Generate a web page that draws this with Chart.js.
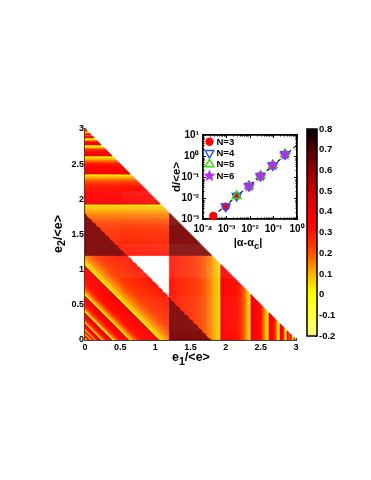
<!DOCTYPE html>
<html><head><meta charset="utf-8">
<script src="https://cdn.jsdelivr.net/npm/chart.js@4"></script>
<style>
html,body{margin:0;padding:0;background:#fff;overflow:hidden}
#wrap{position:relative;width:371px;height:480px;font-family:"Liberation Sans",Arial,sans-serif;font-weight:bold;color:#000}
canvas{position:absolute;left:0;top:0}
.t{position:absolute;white-space:nowrap;line-height:1}
.t sub{font-size:.85em;vertical-align:-0.35em;line-height:0}
</style></head><body>
<div id="wrap">
<canvas id="main" width="371" height="480"></canvas>
<canvas id="inset" width="371" height="480"></canvas>
<canvas id="bar" width="371" height="480"></canvas>
<div class="t" style="left:172px;top:351px;font-size:12.5px">e<sub>1</sub>/&lt;e&gt;</div>
<div class="t" style="left:58px;top:234px;font-size:12.5px;transform:translate(-50%,-50%) rotate(-90deg)">e<sub>2</sub>/&lt;e&gt;</div>
<div class="t" style="left:177px;top:177px;font-size:11.5px;transform:translate(-50%,-50%) rotate(-90deg)">d/&lt;e&gt;</div>
<div class="t" style="left:248px;top:242px;font-size:11px;transform:translate(-50%,-50%)">|α-α<sub>c</sub>|</div>
</div>
<script>
// ---- heat map tick labels
const mainXTicks=[0,0.5,1,1.5,2,2.5,3];
const mainYTicks=[0,0.5,1,1.5,2,2.5,3];
// ---- heat map bands, read along e (1.2..3): band start and strip values inside each band
const bandStarts=[1.2,1.93,2.36,2.61,2.77,2.87,2.92,2.955,2.975,2.99];
const band0=[.30,.29,.285,.28,.275,.27,.265,.26,.255,.25,.24,.23,.22,.20,.18,.16,.14,.11,.08,.04];
const band1=[.42,.38,.35,.34,.33,.33,.32,.31,.30,.28,.25,.21,.16,.10,.03];
const band2=[.42,.37,.34,.33,.31,.29,.25,.18,.10,.03];
const band3=[.42,.37,.34,.31,.27,.19,.10,.02];
const band4=[.42,.35,.29,.16,.03];
const band5=[.40,.30,.16,.03];
const band6=[.38,.24,.04];
const band7=[.35,.12,.02];
const band8=[.30,.05];
const band9=[.15,.0];
const bands=[band0,band1,band2,band3,band4,band5,band6,band7,band8,band9];
const darkValue=0.63, splitLow=1.2, splitHigh=1.8, heatMax=3;
// ---- colour scale
const cmapValues=[-0.2,-0.1,0,0.05,0.1,0.2,0.3,0.35,0.4,0.5,0.6,0.7,0.8];
const cmapColors=[[255,255,128],[255,255,64],[255,255,0],[255,216,0],[255,176,0],[255,80,0],[255,16,0],[255,0,0],[240,0,0],[200,0,0],[144,0,0],[80,0,0],[0,0,0]];
const barTicks=[-0.2,-0.1,0,0.1,0.2,0.3,0.4,0.5,0.6,0.7,0.8];
// ---- inset series
const alphaAll=[2.75e-4,9.3e-4,2.7e-3,9.1e-3,2.8e-2,9.3e-2,0.31];
const dAll=[1.38e-3,3.9e-3,1.26e-2,3.7e-2,0.112,0.363,1.2];
const n3Start=0,n4Start=1,n5Start=2,n6Start=3;
const fitX=[2.75e-4,1], fitY=[1.38e-3,3.3];
const insetXTicks=[1e-4,1e-3,1e-2,1e-1,1];
const insetYTicks=[1e-3,1e-2,1e-1,1,10];
const insetXLabels=['10⁻⁴','10⁻³','10⁻²','10⁻¹','10⁰'];
const insetYLabels=['10⁻³','10⁻²','10⁻¹','10⁰','10¹'];
const minorMult=[2,3,4,5,6,7,8,9];

function cmap(v){
  let i=0; while(i<cmapValues.length-2&&v>cmapValues[i+1])i++;
  const f=Math.max(0,Math.min(1,(v-cmapValues[i])/(cmapValues[i+1]-cmapValues[i])));
  const a=cmapColors[i],b=cmapColors[i+1];
  return 'rgb('+a.map((c,k)=>Math.round(c+(b[k]-c)*f)).join(',')+')';
}
function profile(t){
  let i=bandStarts.length-1; while(i>0&&t<bandStarts[i])i--;
  const lo=bandStarts[i],hi=i+1<bandStarts.length?bandStarts[i+1]:heatMax;
  const b=bands[i];
  return b[Math.min(b.length-1,Math.max(0,Math.floor((t-lo)/(hi-lo)*b.length)))];
}
function field(x,y){
  const s=x+y;
  if(s>heatMax)return null;
  if(x<splitLow&&y<splitLow) return s>=splitHigh?null:profile(heatMax-s);
  if(x>=splitLow&&y>=splitLow) return darkValue;
  if(s<splitHigh) return darkValue;
  return profile(Math.max(x,y));
}
const cells=[];
const cellStep=3/210;
for(let i=0;i<210;i++)for(let j=0;j<210;j++){
  const x=(i+.5)*cellStep,y=(j+.5)*cellStep,v=field(x,y);
  if(v!==null)cells.push({x,y,v});
}
Chart.defaults.animation=false;
Chart.defaults.events=[];
Chart.defaults.font.family='"Liberation Sans",Arial,sans-serif';
Chart.defaults.font.weight='bold';
Chart.defaults.color='#000';
Chart.defaults.plugins.legend.display=false;
Chart.defaults.plugins.tooltip.enabled=false;

const fixed=(vals)=>s=>{s.ticks=vals.map(v=>({value:v}));};
const noPad=(size,isX)=>s=>{ if(isX)s.height=size; else s.width=size; s.paddingLeft=s.paddingRight=s.paddingTop=s.paddingBottom=0;};

new Chart(document.getElementById('main'),{
  type:'scatter',
  data:{datasets:[{data:cells,showLine:false,pointStyle:'rect',pointRadius:0.95,pointBorderWidth:0,
    pointBackgroundColor:c=>cmap(c.raw.v)}]},
  options:{responsive:false,layout:{padding:{left:55,right:75,top:129,bottom:120}},
    scales:{
      x:{type:'linear',min:0,max:3,afterBuildTicks:fixed(mainXTicks),afterFit:noPad(20,true),
        border:{color:'#444',width:2},grid:{drawOnChartArea:false,tickLength:-2,color:'#444'},
        ticks:{font:{size:9},padding:4,maxRotation:0,autoSkip:false,callback:v=>String(v)}},
      y:{type:'linear',min:0,max:3,afterBuildTicks:fixed(mainYTicks),afterFit:noPad(30,false),
        border:{color:'#444',width:2},grid:{drawOnChartArea:false,tickLength:-2,color:'#444'},
        ticks:{font:{size:9},padding:3,autoSkip:false,callback:v=>String(v)}}
    }}
});

const starCanvas=document.createElement('canvas');
starCanvas.width=starCanvas.height=13;
(function(){const c=starCanvas.getContext('2d');c.fillStyle='#b030ea';c.beginPath();
  for(let i=0;i<10;i++){const r=i%2?2.9:6.4,a=-Math.PI/2+i*Math.PI/5;c.lineTo(6.5+r*Math.cos(a),6.7+r*Math.sin(a));}
  c.closePath();c.fill();})();
function series(start){return alphaAll.map((a,i)=>({x:a,y:dAll[i]})).slice(start);}
const logMinor=(vals)=>{const out=[];vals.slice(0,-1).forEach(v=>minorMult.forEach(m=>out.push(v*m)));return out;};
const insetLegend={id:'insetLegend',afterDraw(chart){
  const ctx=chart.ctx;
  const rows=[141.7,153,164.3,175.7];
  chart.data.datasets.filter(d=>d.label).forEach((d,i)=>{
    ctx.save();
    ctx.strokeStyle=d.pointBorderColor;ctx.fillStyle=d.pointBackgroundColor;ctx.lineWidth=d.pointBorderWidth;
    Chart.helpers.drawPoint(ctx,{pointStyle:d.pointStyle,rotation:d.pointRotation||0,radius:d.pointRadius,borderWidth:d.pointBorderWidth},209.5,rows[i]);
    ctx.restore();
    ctx.save();ctx.fillStyle='#000';ctx.font='bold 9.5px "Liberation Sans"';ctx.textBaseline='middle';
    ctx.fillText(d.label,216.5,rows[i]+.5);ctx.restore();
  });
}};
const frameScale=(pos,vals,size,isX,weight)=>({type:'logarithmic',position:pos,weight,min:isX?1e-4:1e-3,max:isX?1:10,
  afterBuildTicks:fixed(vals),afterFit:noPad(0,isX),
  border:{color:'#000',width:1.5},grid:{drawOnChartArea:false,tickLength:-size,color:'#000',lineWidth:1},
  ticks:{display:false}});
new Chart(document.getElementById('inset'),{
  type:'scatter',
  plugins:[insetLegend],
  data:{datasets:[
    {data:series(n3Start),label:'N=3',order:3,showLine:false,pointStyle:'circle',pointRadius:4.2,pointBackgroundColor:'#ff0000',pointBorderColor:'#ff0000',pointBorderWidth:0},
    {data:series(n4Start),label:'N=4',order:2,showLine:false,pointStyle:'triangle',pointRotation:180,pointRadius:5,pointBackgroundColor:'rgba(0,0,0,0)',pointBorderColor:'#2a50ff',pointBorderWidth:1.5},
    {data:series(n5Start),label:'N=5',order:1,showLine:false,pointStyle:'triangle',pointRadius:5,pointBackgroundColor:'rgba(0,0,0,0)',pointBorderColor:'#33e000',pointBorderWidth:1.5},
    {data:series(n6Start),label:'N=6',order:0,showLine:false,pointStyle:starCanvas,pointRadius:6,pointBackgroundColor:'#b030ea',pointBorderColor:'#b030ea',pointBorderWidth:0},
    {data:fitX.map((x,i)=>({x,y:fitY[i]})),order:4,showLine:true,borderColor:'#000',borderWidth:1.1,borderDash:[4,3],pointRadius:0}
  ]},
  options:{responsive:false,clip:false,layout:{padding:{left:175,right:74,top:135,bottom:241}},
    scales:{
      xMinorB:frameScale('bottom',logMinor(insetXTicks),1.5,true,-2),
      yMinorL:frameScale('left',logMinor(insetYTicks),1.5,false,-2),
      x:{type:'logarithmic',position:'bottom',weight:2,min:1e-4,max:1,afterBuildTicks:fixed(insetXTicks),afterFit:noPad(20,true),
        border:{color:'#000',width:1.5},grid:{drawOnChartArea:false,tickLength:-3,color:'#000'},
        ticks:{font:{size:10},padding:7,maxRotation:0,autoSkip:false,callback:v=>insetXLabels[insetXTicks.findIndex(t=>Math.abs(t/v-1)<1e-6)]}},
      y:{type:'logarithmic',position:'left',weight:2,min:1e-3,max:10,afterBuildTicks:fixed(insetYTicks),afterFit:noPad(28,false),
        border:{color:'#000',width:1.5},grid:{drawOnChartArea:false,tickLength:-3,color:'#000'},
        ticks:{font:{size:10},padding:7,autoSkip:false,callback:v=>insetYLabels[insetYTicks.findIndex(t=>Math.abs(t/v-1)<1e-6)]}},
      xTop:frameScale('top',insetXTicks,3,true,0),
      yRight:frameScale('right',insetYTicks,3,false,0),
      xMinorT:frameScale('top',logMinor(insetXTicks),1.5,true,1),
      yMinorR:frameScale('right',logMinor(insetYTicks),1.5,false,1)
    }}
});

const stripValues=[];
for(let k=0;k<100;k++)stripValues.push(-0.2+k*0.01);
const barFrame={id:'barFrame',afterDraw(chart){
  const a=chart.chartArea,c=chart.ctx;c.save();c.strokeStyle='#000';c.lineWidth=1.5;
  c.strokeRect(a.left,a.top,a.right-a.left,a.bottom-a.top);c.restore();
}};
new Chart(document.getElementById('bar'),{
  type:'bar',
  plugins:[barFrame],
  data:{labels:['c'],datasets:stripValues.map(v=>({data:[[v,v+0.013]],backgroundColor:cmap(v+0.005),borderWidth:0,grouped:false,barPercentage:1,categoryPercentage:1}))},
  options:{responsive:false,layout:{padding:{left:307,right:24,top:129,bottom:144}},
    scales:{
      x:{display:false},
      y:{type:'linear',position:'right',min:-0.2,max:0.8,afterBuildTicks:fixed(barTicks),afterFit:noPad(30,false),
        border:{display:false},grid:{drawOnChartArea:false,tickLength:-2,color:'#000'},
        ticks:{font:{size:9.5},padding:4,autoSkip:false,callback:v=>String(Math.round(v*10)/10)}}
    }}
});
</script>
</body></html>
